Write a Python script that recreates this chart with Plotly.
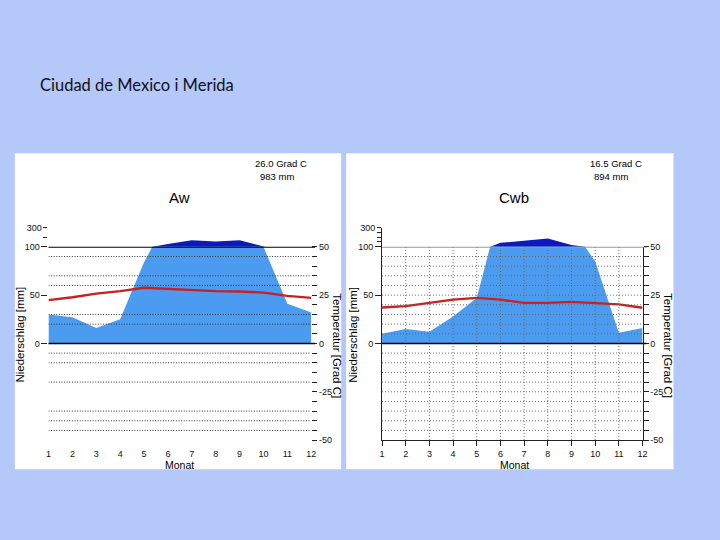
import plotly.graph_objects as go

# ---------------- data ----------------
months = list(range(1, 13))
month_labels = [str(m) for m in months]

# Merida (Aw)
merida_precip = [30, 27, 16, 25, 84, 130, 168, 154, 168, 100, 41, 32]       # mm
merida_temp = [22.4, 23.9, 25.8, 27.1, 28.8, 28.3, 27.5, 27.1, 26.9, 26.3, 24.6, 23.6]  # deg C
merida_info = ["26.0 Grad C", "983 mm"]
merida_class = "Aw"

# Ciudad de Mexico (Cwb)
mexico_precip = [10, 15, 12, 28, 47, 141, 161, 185, 120, 85, 11, 16]
mexico_temp = [18.6, 19.3, 21.0, 22.7, 23.6, 22.7, 21.0, 21.0, 21.5, 21.0, 20.2, 18.5]
mexico_info = ["16.5 Grad C", "894 mm"]
mexico_class = "Cwb"

slide_title = "Ciudad de Mexico i Merida"

precip_low_ticks = [0, 50, 100]
precip_low_text = ["0", "50", "100"]
temp_ticks = list(range(-50, 51, 5))
temp_labels = {50: "50", 25: "25", 0: "0", -25: "-25", -50: "-50"}

# ---------------- style ----------------
W, H = 720, 540
BG = "#b4c8f9"
LB = "#4b9cf0"
DB = "#0b1ac0"
RED = "#cc1f1f"
FONT = "Liberation Sans"


def fx(px):
    return px / W


def fy(py):
    return 1 - py / H


y_bot_px, y_top_px = 443.3, 226.7
unit = (y_bot_px - y_top_px) / 110.0
y50_px = y_bot_px - 100 * unit
YB, Y50, YT = fy(y_bot_px), fy(y50_px), fy(y_top_px)

panels = [
    dict(xd=[fx(46), fx(311.7)], precip=merida_precip, temp=merida_temp, info=merida_info,
         cls=merida_class, cx=178, info_x=[281, 277], niedx=17, tempx=338,
         axes=("x", "y", "y2", "y3"), line100="#000000", hi_ticks=[200, 300],
         hi_text=["", "300"], grid_levels=[45, 35, 30, 15, 10, -5, -10, -20, -35, -40, -45],
         vgrid=False, showlines=False, gridcolor="#333333", griddash="1px,1.6px", pnl=[12, 342]),
    dict(xd=[fx(383.3), fx(646.7)], precip=mexico_precip, temp=mexico_temp, info=mexico_info,
         cls=mexico_class, cx=517, info_x=[620, 615], niedx=354, tempx=673,
         axes=("x2", "y4", "y5", "y6"), line100="#9a9a9a", hi_ticks=[150, 200, 250, 300],
         hi_text=["", "", "", "300"], grid_levels=[v for v in range(-45, 50, 5) if v != 0],
         vgrid=True, showlines=True, gridcolor="#6a6a6a", griddash="1px,2px", pnl=[347, 678]),
]

fig = go.Figure()
shapes = []
annotations = []
layout = {}

tickfont = dict(family=FONT, size=9, color="#111111")

for i, p in enumerate(panels):
    xa, ylo, yhi, yt = p["axes"]
    # white panel
    shapes.append(dict(type="rect", xref="paper", yref="paper", x0=fx(p["pnl"][0]), x1=fx(p["pnl"][1]),
                       y0=fy(473), y1=fy(151), fillcolor="white", line=dict(width=0), layer="below"))
    # traces
    fig.add_trace(go.Scatter(x=months, y=p["precip"], xaxis=xa, yaxis=ylo, mode="lines",
                             fill="tozeroy", fillcolor=LB, line=dict(width=0, color=LB),
                             hoverinfo="skip", showlegend=False))
    fig.add_trace(go.Scatter(x=months, y=p["precip"], xaxis=xa, yaxis=yhi, mode="lines",
                             fill="tozeroy", fillcolor=DB, line=dict(width=0, color=DB),
                             hoverinfo="skip", showlegend=False))
    fig.add_trace(go.Scatter(x=months, y=p["temp"], xaxis=xa, yaxis=yt, mode="lines",
                             line=dict(width=2.4, color=RED), showlegend=False))

    xname = "xaxis" if xa == "x" else "xaxis" + xa[1:]
    yname = lambda a: "yaxis" if a == "y" else "yaxis" + a[1:]
    sl = p["showlines"]
    layout[xname] = dict(domain=p["xd"], anchor=ylo, range=[1, 12], tickvals=months, ticktext=month_labels,
                         showgrid=False, zeroline=False, showline=sl, linecolor="#222222", linewidth=1,
                         ticks="outside", ticklen=5, tickcolor="#222222" if sl else "rgba(0,0,0,0)",
                         tickfont=tickfont, fixedrange=True)
    layout[yname(ylo)] = dict(domain=[YB, Y50], anchor=xa, range=[-100, 100], side="left",
                              tickvals=precip_low_ticks, ticktext=precip_low_text, ticks="outside",
                              ticklen=6, tickcolor="#222222", showgrid=False, zeroline=False,
                              showline=sl, linecolor="#222222", linewidth=1, tickfont=tickfont)
    layout[yname(yhi)] = dict(domain=[Y50, YT], anchor=xa, range=[100, 300], side="left",
                              tickvals=p["hi_ticks"], ticktext=p["hi_text"], ticks="outside",
                              ticklen=4, tickcolor="#222222", showgrid=False, zeroline=False,
                              showline=sl, linecolor="#222222", linewidth=1, tickfont=tickfont)
    layout[yname(yt)] = dict(overlaying=ylo, anchor=xa, side="right", range=[-50, 50],
                             tickvals=temp_ticks, ticktext=[temp_labels.get(v, "") for v in temp_ticks],
                             ticks="outside", ticklen=5, tickcolor="#222222", showgrid=False,
                             zeroline=False, showline=sl, linecolor="#222222", linewidth=1,
                             tickfont=tickfont)

    # grid lines (dotted, drawn over the fill)
    gl = dict(color=p["gridcolor"], width=1, dash=p["griddash"])
    for lv in p["grid_levels"]:
        shapes.append(dict(type="line", xref=xa, yref=yt, x0=1, x1=12, y0=lv, y1=lv,
                           line=gl, layer="above"))
    if p["vgrid"]:
        for m in months[1:-1]:
            shapes.append(dict(type="line", xref=xa, yref=yt, x0=m, x1=m, y0=-50, y1=50,
                               line=gl, layer="above"))
    # 100 mm line and zero line
    shapes.append(dict(type="line", xref=xa + " domain", yref=ylo, x0=0, x1=1.015, y0=100, y1=100,
                       line=dict(color=p["line100"], width=1.6), layer="above"))
    shapes.append(dict(type="line", xref=xa + " domain", yref=ylo, x0=0, x1=1.015, y0=0, y1=0,
                       line=dict(color="#000000", width=1.4), layer="above"))

    # texts
    annotations += [
        dict(text=p["cls"], x=fx(p["cx"]), y=fy(196.5), xref="paper", yref="paper", showarrow=False,
             xanchor="center", yanchor="middle", font=dict(family=FONT, size=15, color="#000")),
        dict(text=p["info"][0], x=fx(p["info_x"][0]), y=fy(161.7), xref="paper", yref="paper",
             showarrow=False, xanchor="center", yanchor="middle", font=dict(family=FONT, size=9.5, color="#000")),
        dict(text=p["info"][1], x=fx(p["info_x"][1]), y=fy(175), xref="paper", yref="paper",
             showarrow=False, xanchor="center", yanchor="middle", font=dict(family=FONT, size=9.5, color="#000")),
        dict(text="Niederschlag [mm]", x=fx(p["niedx"]), y=fy(336), xref="paper", yref="paper",
             showarrow=False, textangle=-90, xanchor="center", yanchor="middle",
             font=dict(family=FONT, size=11.5, color="#000")),
        dict(text="Temperatur [Grad C]", x=fx(p["tempx"]), y=fy(347), xref="paper", yref="paper",
             showarrow=False, textangle=90, xanchor="center", yanchor="middle",
             font=dict(family=FONT, size=11.5, color="#000")),
        dict(text="Monat", x=fx(p["cx"]), y=fy(469), xref="paper", yref="paper", showarrow=False,
             xanchor="center", yanchor="middle", font=dict(family=FONT, size=10.5, color="#000")),
    ]

annotations.append(dict(text=slide_title, x=fx(35), y=fy(81), xref="paper", yref="paper",
                        showarrow=False, xanchor="left", yanchor="middle",
                        font=dict(family="Lato", size=16.5, color="#10101a")))

fig.update_layout(width=W, height=H, autosize=False, margin=dict(l=0, r=0, t=0, b=0),
                  paper_bgcolor=BG, plot_bgcolor="rgba(0,0,0,0)", showlegend=False,
                  shapes=shapes, annotations=annotations, **layout)

fig.write_html("out.html")
